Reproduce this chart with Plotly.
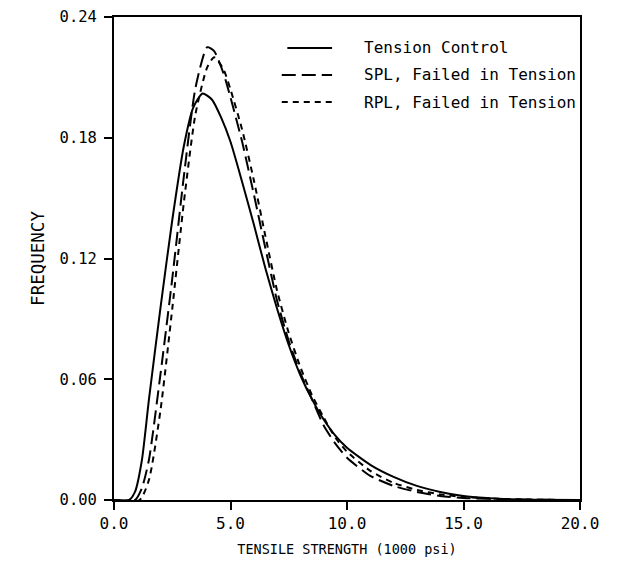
import plotly.graph_objects as go

# Tension Control (solid)
tc_x = [0.0, 0.65, 0.9, 1.2, 1.5, 2.0, 2.5, 3.0, 3.4, 3.8, 4.2, 4.6, 5.0, 5.5, 6.0, 6.5, 7.0,
        7.5, 8.0, 8.5, 9.0, 9.5, 10.0, 11.0, 12.0, 13.0, 14.0, 15.0, 16.0, 17.0, 18.0, 20.0]
tc_y = [0.0, 0.0, 0.004, 0.020, 0.050, 0.096, 0.139, 0.176, 0.195, 0.202, 0.199, 0.190, 0.178,
        0.158, 0.137, 0.115, 0.095, 0.077, 0.062, 0.050, 0.040, 0.032, 0.026, 0.0175, 0.0115,
        0.007, 0.004, 0.002, 0.001, 0.0004, 0.0001, 0.0]

# SPL, Failed in Tension (long dash)
spl_x = [0.0, 0.9, 1.2, 1.5, 2.0, 2.5, 3.0, 3.5, 4.0, 4.3, 4.7, 5.0, 5.5, 6.0, 6.5, 7.0, 7.5,
         8.0, 8.5, 9.0, 9.5, 10.0, 11.0, 12.0, 13.0, 14.0, 15.0, 17.0, 19.5, 20.0]
spl_y = [0.0, 0.0, 0.006, 0.020, 0.063, 0.110, 0.161, 0.205, 0.225, 0.223, 0.212, 0.200, 0.178,
         0.152, 0.125, 0.099, 0.079, 0.063, 0.050, 0.037, 0.028, 0.021, 0.012, 0.007, 0.004,
         0.002, 0.001, 0.0003, 0.0, 0.0]

# RPL, Failed in Tension (short dash)
rpl_x = [0.0, 1.1, 1.5, 2.0, 2.5, 3.0, 3.5, 4.0, 4.3, 4.7, 5.0, 5.5, 6.0, 6.5, 7.0, 7.5, 8.0,
         8.5, 9.0, 9.5, 10.0, 11.0, 12.0, 13.0, 14.0, 15.0, 17.0, 19.5, 20.0]
rpl_y = [0.0, 0.0, 0.010, 0.045, 0.095, 0.148, 0.192, 0.215, 0.220, 0.214, 0.204, 0.184, 0.159,
         0.131, 0.104, 0.083, 0.066, 0.052, 0.041, 0.031, 0.024, 0.0145, 0.0085, 0.005, 0.0028,
         0.0015, 0.0004, 0.0, 0.0]

x_ticks = [0, 5, 10, 15, 20]
x_labels = ["0.0", "5.0", "10.0", "15.0", "20.0"]
y_ticks = [0, 0.06, 0.12, 0.18, 0.24]
y_labels = ["0.00", "0.06", "0.12", "0.18", "0.24"]

names = ["Tension Control", "SPL, Failed in Tension", "RPL, Failed in Tension"]
dashes = ["solid", "14px,6px", "6px,5px"]

FONT = "DejaVu Sans Mono"

fig = go.Figure()
for xs, ys, nm, ds in [(tc_x, tc_y, names[0], dashes[0]),
                       (spl_x, spl_y, names[1], dashes[1]),
                       (rpl_x, rpl_y, names[2], dashes[2])]:
    fig.add_trace(go.Scatter(x=xs, y=ys, mode="lines", name=nm, showlegend=False,
                             line=dict(color="black", width=2, dash=ds, shape="spline",
                                       smoothing=0.6)))

# manual legend
rows = [0.936, 0.880, 0.824]
x_starts = [0.372, 0.36, 0.36]
for i, nm in enumerate(names):
    fig.add_shape(type="line", xref="paper", yref="paper", x0=x_starts[i], x1=0.468,
                  y0=rows[i], y1=rows[i], line=dict(color="black", width=2, dash=dashes[i]))
    fig.add_annotation(xref="paper", yref="paper", x=0.532, y=rows[i], text=nm,
                       showarrow=False, xanchor="left", yanchor="middle",
                       font=dict(family=FONT, size=16, color="black"))

fig.update_layout(
    width=614, height=570,
    margin=dict(l=106, r=42, t=9, b=78, autoexpand=False),
    paper_bgcolor="white", plot_bgcolor="white",
    font=dict(family=FONT, size=15, color="black"),
    showlegend=False,
)
fig.update_xaxes(range=[0, 20], tickvals=x_ticks, ticktext=x_labels, ticks="outside",
                 ticklen=8, tickwidth=2, tickcolor="black", showline=True, linewidth=2,
                 linecolor="black", mirror=True, showgrid=False, zeroline=False,
                 automargin=False,
                 tickfont=dict(family=FONT, size=16),
                 title=dict(text="TENSILE STRENGTH (1000 psi)", font=dict(family=FONT, size=13.5),
                            standoff=12))
fig.update_yaxes(range=[0, 0.24], tickvals=y_ticks, ticktext=y_labels, ticks="outside",
                 ticklen=8, tickwidth=2, tickcolor="black", showline=True, linewidth=2,
                 linecolor="black", mirror=True, showgrid=False, zeroline=False,
                 automargin=False, ticklabelstandoff=4,
                 tickfont=dict(family=FONT, size=15.5),
                 title=dict(text="FREQUENCY", font=dict(family=FONT, size=17.5), standoff=10))

fig.write_html("out.html")
